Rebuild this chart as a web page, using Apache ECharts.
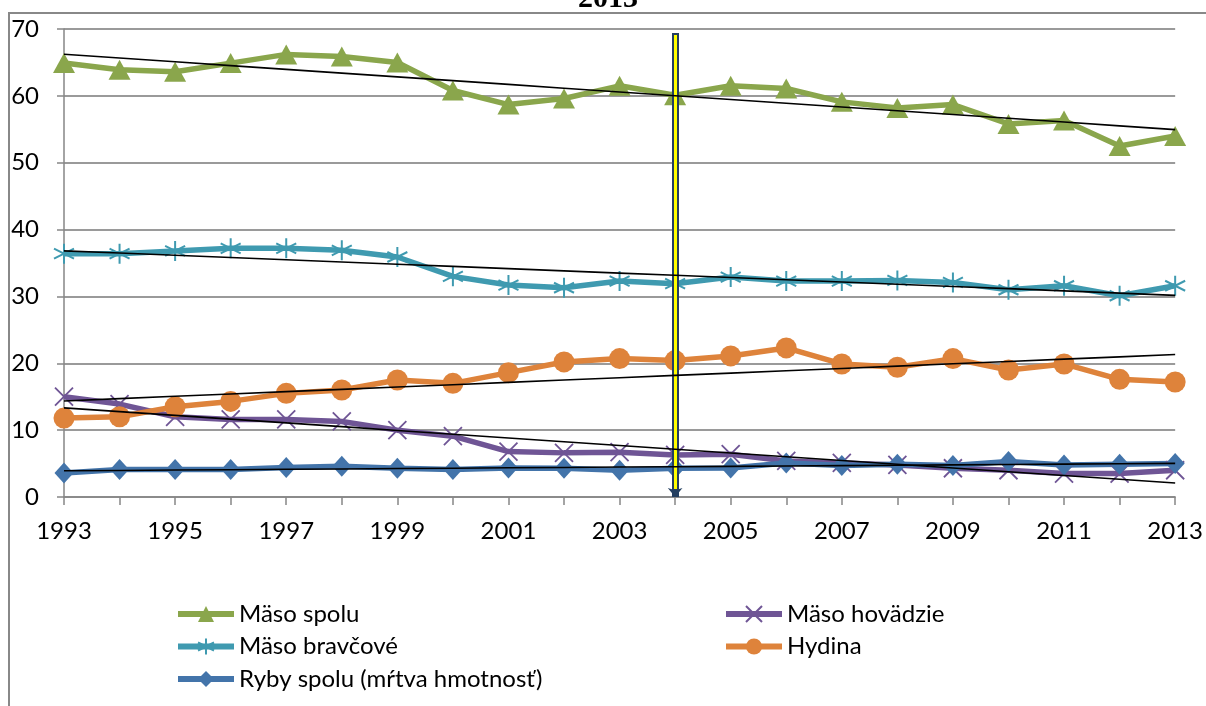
<!DOCTYPE html>
<html>
<head>
<meta charset="utf-8">
<script src="https://cdn.jsdelivr.net/npm/echarts@6/dist/echarts.min.js"></script>
<style>
  html, body { margin: 0; padding: 0; background: #fff; }
  #chart { width: 1206px; height: 706px; }
</style>
</head>
<body>
<div id="chart"></div>
<script>
// Years on the category axis
const years = ['1993','1994','1995','1996','1997','1998','1999','2000','2001','2002','2003',
               '2004','2005','2006','2007','2008','2009','2010','2011','2012','2013'];

// Per-capita consumption, kg
const masoSpolu    = [64.9, 63.9, 63.6, 64.9, 66.2, 65.9, 65.0, 60.8, 58.7, 59.6, 61.5,
                      60.1, 61.5, 61.1, 59.1, 58.2, 58.7, 55.8, 56.3, 52.5, 54.0];
const masoHovadzie = [15.0, 13.9, 12.0, 11.6, 11.6, 11.3, 10.0, 9.1, 6.8, 6.6, 6.7,
                      6.3, 6.4, 5.4, 5.1, 4.8, 4.3, 4.0, 3.5, 3.5, 4.0];
const masoBravcove = [36.4, 36.4, 36.8, 37.2, 37.2, 36.9, 35.9, 33.0, 31.7, 31.3, 32.3,
                      31.9, 32.9, 32.3, 32.3, 32.4, 32.1, 31.0, 31.6, 30.1, 31.6];
const hydina       = [11.8, 12.0, 13.5, 14.3, 15.5, 16.0, 17.5, 17.0, 18.6, 20.2, 20.7,
                      20.4, 21.1, 22.3, 19.9, 19.4, 20.7, 19.0, 19.9, 17.6, 17.2];
const rybySpolu    = [3.6, 4.1, 4.1, 4.1, 4.4, 4.6, 4.3, 4.1, 4.35, 4.3, 4.0,
                      4.3, 4.35, 5.1, 4.7, 4.9, 4.7, 5.3, 4.8, 4.9, 5.0];

// Y-axis scale
const yMin = 0, yMax = 70, yStep = 10;
// Year marked by the vertical arrow
const markedYear = '2004';

const names = {
  spolu: 'Mäso spolu',
  hovadzie: 'Mäso hovädzie',
  bravcove: 'Mäso bravčové',
  hydina: 'Hydina',
  ryby: 'Ryby spolu (mŕtva hmotnosť)'
};

// Least-squares linear trend over the year index
function linearTrend(values) {
  const n = values.length;
  let sx = 0, sy = 0, sxx = 0, sxy = 0;
  values.forEach((v, i) => { sx += i; sy += v; sxx += i * i; sxy += i * v; });
  const slope = (n * sxy - sx * sy) / (n * sxx - sx * sx);
  const icpt = (sy - slope * sx) / n;
  return values.map((_, i) => +(icpt + slope * i).toFixed(3));
}

const FONT = 'Lato';
const FS = 24;

// Asterisk and cross marker outlines
const starPath = 'path://M5 0 L5 10 M0.7 2.5 L9.3 7.5 M0.7 7.5 L9.3 2.5';
const crossPath = 'path://M0 0 L10 10 M0 10 L10 0';

function dataSeries(name, data, color, symbol, size, extra) {
  const s = {
    name: name,
    type: 'line',
    data: data,
    lineStyle: { color: color, width: 5.5 },
    itemStyle: { color: color, borderColor: color, borderWidth: 0 },
    symbol: symbol,
    symbolSize: size,
    showSymbol: true,
    z: 3,
    emphasis: { disabled: true }
  };
  if (extra) Object.assign(s.itemStyle, extra);
  return s;
}

function trendSeries(id, data) {
  return {
    name: id,
    type: 'line',
    data: linearTrend(data),
    showSymbol: false,
    symbol: 'none',
    lineStyle: { color: '#000', width: 1.6 },
    z: 5,
    silent: true,
    emphasis: { disabled: true }
  };
}

const COL = {
  spolu: '#8aa64c',
  hovadzie: '#6f5595',
  bravcove: '#3f9ab0',
  hydina: '#de833b',
  ryby: '#4374aa'
};

const chart = echarts.init(document.getElementById('chart'), null, { renderer: 'canvas' });

const legendText = { fontFamily: FONT, fontSize: FS, color: '#000', lineHeight: 24 };
const legendBase = {
  orient: 'vertical', top: 602, itemGap: 8.5, padding: 0,
  itemWidth: 56, itemHeight: 20,
  lineStyle: { width: 6 },
  textStyle: legendText, selectedMode: false
};

chart.setOption({
  animation: false,
  backgroundColor: '#fff',
  textStyle: { fontFamily: FONT },
  grid: { left: 64, right: 30, top: 29, bottom: 209, containLabel: false },
  legend: [
    Object.assign({ data: [names.spolu, names.bravcove, names.ryby], left: 175 }, legendBase),
    Object.assign({ data: [names.hovadzie, names.hydina], left: 723 }, legendBase)
  ],
  xAxis: {
    type: 'category',
    data: years,
    boundaryGap: false,
    axisLine: { lineStyle: { color: '#868686', width: 1.5 } },
    axisTick: { show: true, interval: 0, length: 8, lineStyle: { color: '#868686', width: 1.5 } },
    axisLabel: { interval: 1, margin: 22, fontFamily: FONT, fontSize: FS, color: '#000' },
    splitLine: { show: false }
  },
  yAxis: {
    type: 'value',
    min: yMin, max: yMax, interval: yStep,
    axisLine: { show: true, lineStyle: { color: '#868686', width: 1.5 } },
    axisTick: { show: true, length: 7, lineStyle: { color: '#868686', width: 1.5 } },
    axisLabel: { margin: 25, fontFamily: FONT, fontSize: FS, color: '#000' },
    splitLine: { lineStyle: { color: '#9a9a9a', width: 2 } }
  },
  series: [
    dataSeries(names.spolu, masoSpolu, COL.spolu, 'triangle', [22, 20]),
    dataSeries(names.hovadzie, masoHovadzie, COL.hovadzie, crossPath, 18,
               { color: 'none', borderColor: COL.hovadzie, borderWidth: 1.8 }),
    dataSeries(names.bravcove, masoBravcove, COL.bravcove, starPath, 20,
               { color: 'none', borderColor: COL.bravcove, borderWidth: 2 }),
    dataSeries(names.hydina, hydina, COL.hydina, 'circle', 21),
    dataSeries(names.ryby, rybySpolu, COL.ryby, 'diamond', [19, 21]),
    trendSeries('trend-spolu', masoSpolu),
    trendSeries('trend-hovadzie', masoHovadzie),
    trendSeries('trend-bravcove', masoBravcove),
    trendSeries('trend-hydina', hydina),
    trendSeries('trend-ryby', rybySpolu),
    // vertical arrow at the marked year
    {
      name: 'marker-outer', type: 'line', data: [], z: 8, silent: true,
      markLine: {
        silent: true, animation: false,
        symbol: ['none', 'arrow'], symbolSize: [11, 9],
        label: { show: false },
        lineStyle: { color: '#243f60', width: 7, type: 'solid' },
        emphasis: { disabled: true },
        data: [[{ coord: [markedYear, 69.4] }, { coord: [markedYear, 0] }]]
      }
    },
    {
      name: 'marker-inner', type: 'line', data: [], z: 9, silent: true,
      markLine: {
        silent: true, animation: false,
        symbol: ['none', 'none'],
        label: { show: false },
        lineStyle: { color: '#ffff00', width: 3, type: 'solid' },
        emphasis: { disabled: true },
        data: [[{ coord: [markedYear, 69.1] }, { coord: [markedYear, 1.2] }]]
      }
    }
  ],
  graphic: [
    // outer frame (top and left edges)
    { type: 'polyline', silent: true, z: 0,
      shape: { points: [[9, 706], [9, 13], [1206, 13]] },
      style: { stroke: '#888', lineWidth: 2, fill: null } },
    // title (last line)
    { type: 'text', silent: true, left: 578, top: -16,
      style: { text: '2013', font: 'bold 30px "Liberation Serif"', fill: '#000' } }
  ]
});
</script>
</body>
</html>
